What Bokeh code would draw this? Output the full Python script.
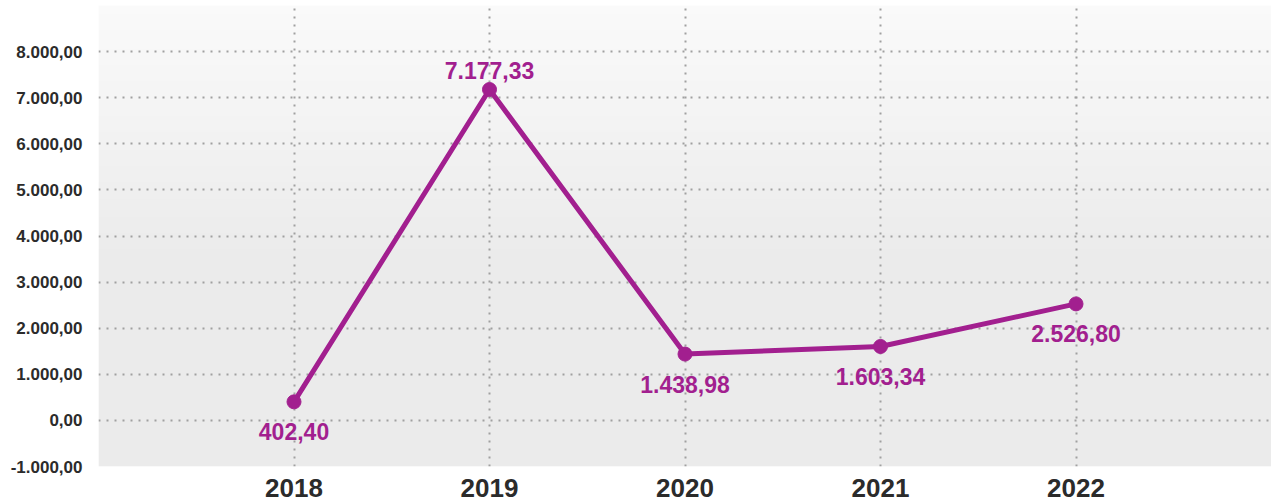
import numpy as np
from bokeh.plotting import figure
from bokeh.models import ColumnDataSource, FixedTicker, Range1d
from bokeh.core.properties import value
from bokeh.embed import file_html
from bokeh.resources import INLINE

years = [2018, 2019, 2020, 2021, 2022]
values = [402.40, 7177.33, 1438.98, 1603.34, 2526.80]
labels = ["402,40", "7.177,33", "1.438,98", "1.603,34", "2.526,80"]
label_side = ["below", "above", "below", "below", "below"]
y_ticks = [-1000, 0, 1000, 2000, 3000, 4000, 5000, 6000, 7000, 8000]
y_tick_labels = ["-1.000,00", "0,00", "1.000,00", "2.000,00", "3.000,00",
                 "4.000,00", "5.000,00", "6.000,00", "7.000,00", "8.000,00"]

PURPLE = "#A21F8F"
LABEL_FONT = "Liberation Sans"

p = figure(width=1271, height=501, output_backend="svg", toolbar_location=None,
           x_range=Range1d(2017, 2023), y_range=Range1d(-1000, 9000),
           min_border_left=98, min_border_right=0, min_border_top=5,
           min_border_bottom=35)
p.outline_line_color = None
p.background_fill_color = "white"
p.border_fill_color = "white"

# vertical gradient background
n = 200
grad = np.zeros((n, 1), dtype=np.uint32)
view = grad.view(dtype=np.uint8).reshape((n, 1, 4))
for i in range(n):
    t = i / (n - 1)  # 0 bottom, 1 top
    g = 235 if t < 0.45 else int(round(235 + (250 - 235) * (t - 0.45) / 0.55))
    view[i, 0, :] = [g, g, g, 255]
p.image_rgba(image=[grad], x=2017, y=-1000, dw=6, dh=10000, level="image")

# axes
p.xaxis.ticker = FixedTicker(ticks=years)
p.xaxis.major_label_overrides = {y: str(y) for y in years}
p.yaxis.ticker = FixedTicker(ticks=y_ticks)
p.yaxis.major_label_overrides = dict(zip(y_ticks, y_tick_labels))
for ax in (p.xaxis[0], p.yaxis[0]):
    ax.axis_line_color = None
    ax.major_tick_line_color = None
    ax.minor_tick_line_color = None
    ax.major_label_text_font = "Liberation Sans"
    ax.major_label_text_font_style = "bold"
    ax.major_label_text_color = "#2b2b2b"
p.yaxis.major_label_text_font_size = "17px"
p.yaxis.major_label_standoff = 10
p.xaxis.major_label_text_font_size = "26px"
p.xaxis.major_label_standoff = 6

# grids
p.xgrid.ticker = FixedTicker(ticks=years)
p.ygrid.ticker = FixedTicker(ticks=[t for t in y_ticks if t > -1000])
for g in (p.xgrid[0], p.ygrid[0]):
    g.grid_line_color = "#a0a0a0"
    g.grid_line_dash = "2 6"
    g.grid_line_width = 2

src = ColumnDataSource(dict(
    x=years, y=values, label=labels,
    dy=[30 if s == "below" else -19 for s in label_side],
))
p.line("x", "y", source=src, line_color=PURPLE, line_width=5)
p.scatter("x", "y", source=src, size=14, fill_color=PURPLE, line_color=PURPLE)
p.text("x", "y", text="label", source=src, y_offset="dy",
       text_align="center", text_baseline="middle",
       text_font=value(LABEL_FONT), text_font_style="bold",
       text_font_size="23px", text_color=PURPLE)

open("out.html", "w").write(file_html(p, INLINE))
